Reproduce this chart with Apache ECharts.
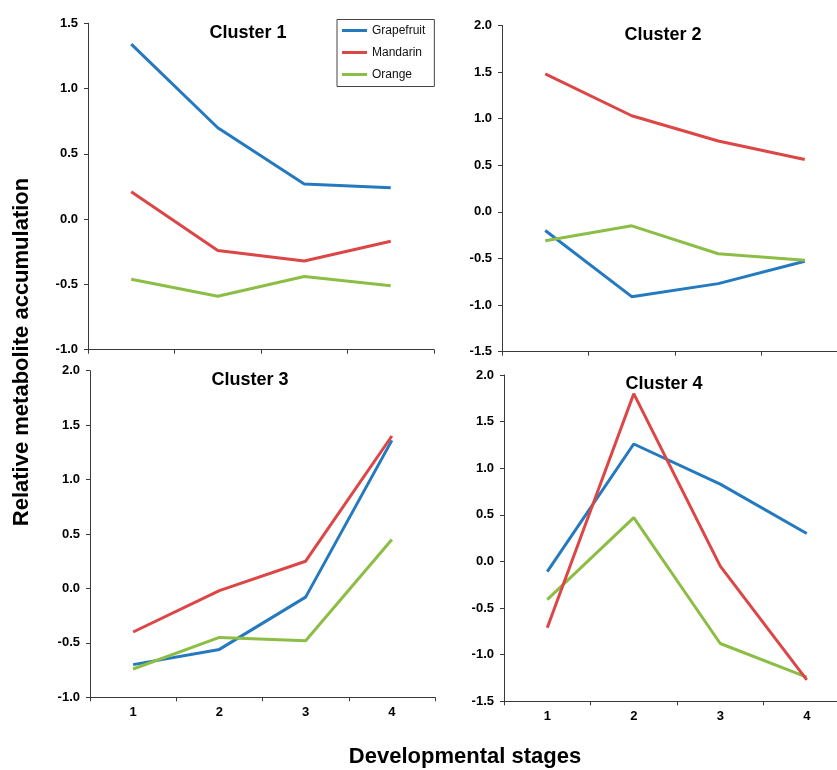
<!DOCTYPE html>
<html>
<head>
<meta charset="utf-8">
<title>Relative metabolite accumulation by cluster</title>
<script src="https://cdn.jsdelivr.net/npm/echarts@6/dist/echarts.min.js"></script>
<style>
  html, body { margin: 0; padding: 0; background: #fff; overflow: hidden; }
  /* the right-hand panels run slightly past the visible page edge */
  #chart { width: 852px; height: 770px; }
</style>
</head>
<body>
<div id="chart"></div>
<script>
// Developmental stages on the x axis
const stages = ['1', '2', '3', '4'];
const fruits = ['Grapefruit', 'Mandarin', 'Orange'];
const panelTitles = ['Cluster 1', 'Cluster 2', 'Cluster 3', 'Cluster 4'];

// Cluster 1
const c1Grapefruit = [1.34, 0.70, 0.27, 0.24];
const c1Mandarin   = [0.21, -0.24, -0.32, -0.17];
const c1Orange     = [-0.46, -0.59, -0.44, -0.51];

// Cluster 2
const c2Grapefruit = [-0.20, -0.91, -0.77, -0.53];
const c2Mandarin   = [1.48, 1.03, 0.76, 0.56];
const c2Orange     = [-0.31, -0.15, -0.45, -0.52];

// Cluster 3
const c3Grapefruit = [-0.70, -0.56, -0.08, 1.36];
const c3Mandarin   = [-0.40, -0.02, 0.25, 1.40];
const c3Orange     = [-0.74, -0.45, -0.48, 0.45];

// Cluster 4
const c4Grapefruit = [-0.11, 1.26, 0.83, 0.30];
const c4Mandarin   = [-0.71, 1.80, -0.05, -1.27];
const c4Orange     = [-0.41, 0.47, -0.88, -1.24];

// Y axis ranges per cluster
const yMin = [-1.0, -1.5, -1.0, -1.5];
const yMax = [1.5, 2.0, 2.0, 2.0];

const clusterData = [
  [c1Grapefruit, c1Mandarin, c1Orange],
  [c2Grapefruit, c2Mandarin, c2Orange],
  [c3Grapefruit, c3Mandarin, c3Orange],
  [c4Grapefruit, c4Mandarin, c4Orange]
];

const colors = ['#2479BF', '#DC4646', '#8CBE45'];
const FONT = '"Liberation Sans", Arial, Helvetica, sans-serif';
const AXIS_COLOR = '#3a3a3a';

const grids = [
  { left: 88,  top: 23.3,  width: 346, height: 326.4 },
  { left: 502, top: 25.3,  width: 346, height: 326.4 },
  { left: 90,  top: 370.7, width: 345, height: 326.6 },
  { left: 504, top: 375,   width: 346, height: 326.3 }
];

const titlePos = [[248, 33], [663, 35], [250, 380], [664, 384.5]];

const xAxes = grids.map((g, i) => ({
  type: 'category',
  gridIndex: i,
  data: stages,
  boundaryGap: true,
  axisLine: { onZero: false, lineStyle: { color: AXIS_COLOR, width: 1 } },
  axisTick: { show: true, inside: false, length: 4, alignWithLabel: false,
              lineStyle: { color: AXIS_COLOR } },
  axisLabel: { show: i >= 2, color: '#000', fontFamily: FONT, fontWeight: 'bold',
               fontSize: 13, margin: 9 },
  splitLine: { show: false }
}));

const yAxes = grids.map((g, i) => ({
  type: 'value',
  gridIndex: i,
  min: yMin[i],
  max: yMax[i],
  interval: 0.5,
  axisLine: { show: true, lineStyle: { color: AXIS_COLOR, width: 1 } },
  axisTick: { show: true, inside: false, length: 4, lineStyle: { color: AXIS_COLOR } },
  axisLabel: { color: '#000', fontFamily: FONT, fontWeight: 'bold', fontSize: 13,
               margin: 10, formatter: v => v.toFixed(1) },
  splitLine: { show: false }
}));

const series = [];
clusterData.forEach((set, gi) => {
  set.forEach((values, fi) => {
    series.push({
      name: fruits[fi],
      type: 'line',
      xAxisIndex: gi,
      yAxisIndex: gi,
      data: values,
      symbol: 'none',
      smooth: false,
      animation: false,
      lineStyle: { color: colors[fi], width: 3 },
      itemStyle: { color: colors[fi] },
      z: 3 + (gi === 3 && fi === 1 ? 1 : 0)
    });
  });
});

const graphics = panelTitles.map((t, i) => ({
  type: 'text',
  x: titlePos[i][0],
  y: titlePos[i][1],
  style: {
    text: t,
    fill: '#000',
    font: 'bold 18px ' + FONT,
    textAlign: 'center',
    textVerticalAlign: 'middle'
  },
  z: 10
}));

graphics.push({
  type: 'text',
  x: 22,
  y: 352,
  rotation: Math.PI / 2,
  style: {
    text: 'Relative metabolite accumulation',
    fill: '#000',
    font: 'bold 22px ' + FONT,
    textAlign: 'center',
    textVerticalAlign: 'middle'
  }
});
graphics.push({
  type: 'text',
  x: 465,
  y: 757,
  style: {
    text: 'Developmental stages',
    fill: '#000',
    font: 'bold 22px ' + FONT,
    textAlign: 'center',
    textVerticalAlign: 'middle'
  }
});

const chart = echarts.init(document.getElementById('chart'), null, { renderer: 'canvas' });
chart.setOption({
  backgroundColor: '#ffffff',
  animation: false,
  grid: grids,
  xAxis: xAxes,
  yAxis: yAxes,
  legend: {
    data: fruits,
    orient: 'vertical',
    left: 337,
    top: 19.5,
    icon: 'rect',
    itemWidth: 25,
    itemHeight: 3,
    itemGap: 8,
    padding: [4, 9, 5, 5],
    borderColor: '#444',
    borderWidth: 1,
    backgroundColor: '#fff',
    selectedMode: false,
    textStyle: { fontFamily: FONT, fontSize: 12, color: '#111', lineHeight: 14 }
  },
  graphic: graphics,
  series: series
});
</script>
</body>
</html>
